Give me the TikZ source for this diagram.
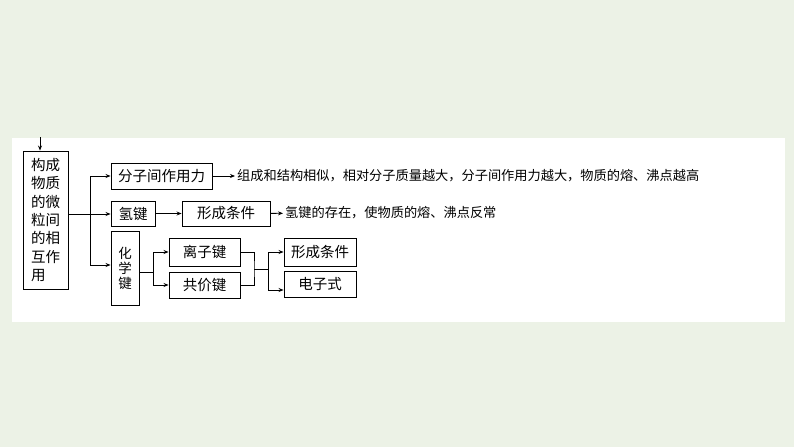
\documentclass[tikz,border=0pt]{standalone}
\usepackage{fontspec}
\newfontfamily\cjk{Noto Sans CJK SC}
\usetikzlibrary{positioning,arrows.meta,calc}

\begin{document}
\begin{tikzpicture}[
    x=1pt, y=-1pt,
    block/.style={rectangle, draw, line width=0.9pt, inner sep=0pt, align=center, font=\cjk\fontsize{14.5}{17}\selectfont},
    tall/.style={block, align=left, font=\cjk\fontsize{14.5}{18.4}\selectfont},
    arrow/.style={-{Stealth[length=5pt, width=4pt]}, line width=0.8pt},
    line/.style={line width=0.8pt},
    note/.style={anchor=west, inner sep=2pt, font=\cjk\fontsize{13.2}{16}\selectfont}
]

% Background and panel
\fill[fill={rgb,255:red,236;green,242;blue,230}] (0,0) rectangle (794,447);
\fill[white] (12,138) rectangle (785,322);
\useasboundingbox (0,0) rectangle (794,447);

% Main blocks
\node[tall, minimum width=45pt, minimum height=138pt] (main) at (45.5,220) {构成\\物质\\的微\\粒间\\的相\\互作\\用};
\node[block, minimum width=101pt, minimum height=26pt] (fenzi) at (161.5,176) {分子间作用力};
\node[block, minimum width=44pt, minimum height=25pt] (qingjian) at (133,213.5) {氢键};
\node[block, minimum width=88pt, minimum height=25pt] (tiaojian) at (226,213.5) {形成条件};
\node[block, font=\cjk\fontsize{13.5}{15}\selectfont, minimum width=28pt, minimum height=74pt] (huaxue) at (125,268) {化\\学\\键};
\node[block, minimum width=71pt, minimum height=28pt] (lizi) at (204.5,252) {离子键};
\node[block, minimum width=71pt, minimum height=26pt] (gongjia) at (204.5,285) {共价键};
\node[block, minimum width=72pt, minimum height=28pt] (tiaojian2) at (320,252) {形成条件};
\node[block, minimum width=72pt, minimum height=26pt] (dianzi) at (320,284) {电子式};

% Notes
\node[note] (note1) at (235,176) {组成和结构相似，相对分子质量越大，分子间作用力越大，物质的熔、沸点越高};
\node[note] (note2) at (283,213) {氢键的存在，使物质的熔、沸点反常};

% Branch points
\coordinate (top) at (40,137);
\coordinate (split1) at (90,214);
\coordinate (split2) at (153,272);
\coordinate (join) at (254,269);
\coordinate (split3) at (268,269);

% Input
\draw[arrow] (top) -- (top |- main.north);

% Forward path
\draw[arrow] (main.east |- split1) -- (qingjian.west |- split1);
\draw[arrow] (split1) |- (fenzi.west);
\draw[arrow] (split1) |- ($(huaxue.west)+(0,-3)$);
\draw[arrow] (qingjian) -- (tiaojian);
\draw[arrow] (fenzi) -- (note1);
\draw[arrow] (tiaojian) -- (note2);

% Chemical bond
\draw[line] (huaxue.east |- split2) -- (split2);
\draw[arrow] (split2) |- (lizi.west);
\draw[arrow] (split2) |- (gongjia.west);
\draw[line] (lizi.east) -| (join) |- (gongjia.east);
\draw[line] (join) -- (split3);
\draw[arrow] (split3) |- (tiaojian2.west);
\draw[arrow] (split3) |- ($(dianzi.west)+(0,6)$);

\end{tikzpicture}
\end{document}
